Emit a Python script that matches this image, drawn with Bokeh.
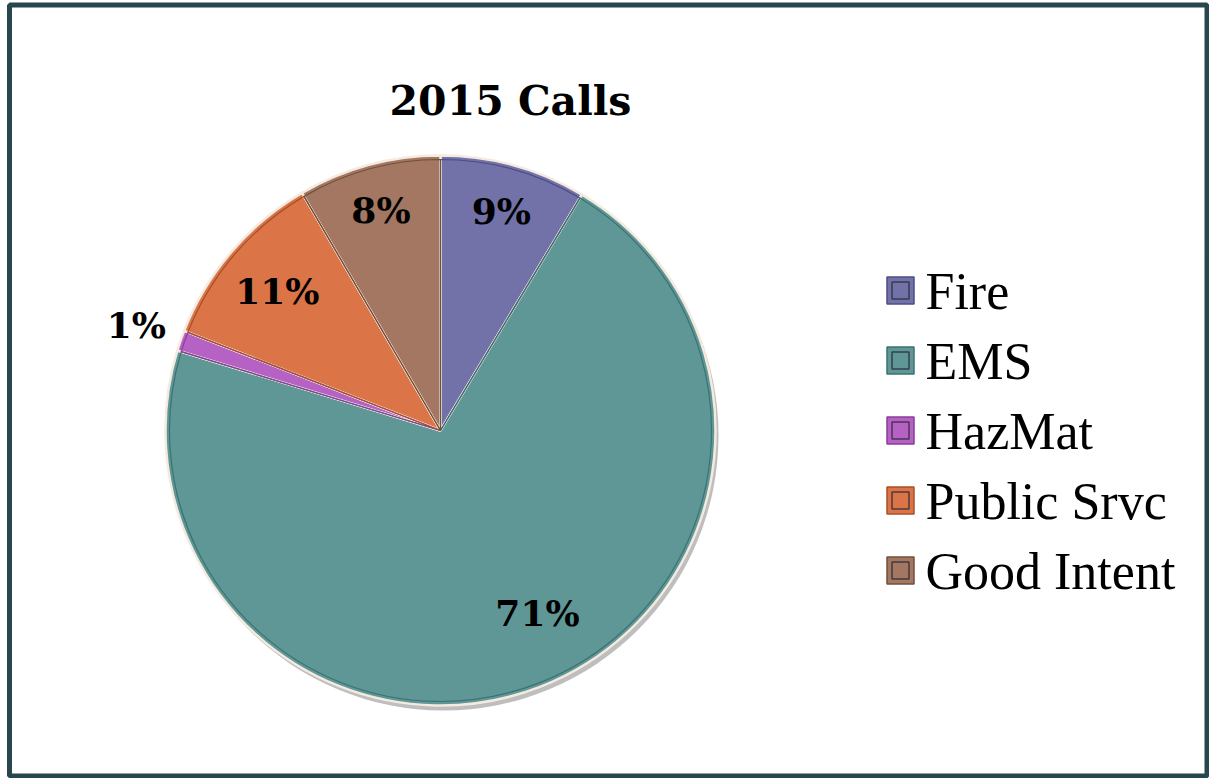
import math
from bokeh.plotting import figure
from bokeh.models import Range1d, ColumnDataSource
from bokeh.core.properties import value
from bokeh.embed import file_html
from bokeh.resources import INLINE

# ---- data ----
categories = ["Fire", "EMS", "HazMat", "Public Srvc", "Good Intent"]
shares = [8.6, 71.1, 1.2, 10.7, 8.4]          # percent of 2015 calls
pct_labels = ["9%", "71%", "1%", "11%", "8%"]
title_text = "2015 Calls"

# ---- style ----
fill_colors = ["#7272a8", "#5f9797", "#b662c4", "#db7447", "#a37761"]
edge_colors = ["#4c4c86", "#3b7272", "#8c3d9c", "#a9512a", "#70503f"]
label_r = [0.83, 0.75, 1.17, 0.78, 0.83]
label_shift_deg = [0, -7, 0, 0, 0]

W, H = 1209, 778
p = figure(width=W, height=H, x_range=Range1d(0, W), y_range=Range1d(0, H),
           output_backend="svg", toolbar_location=None, min_border=0)
p.axis.visible = False
p.grid.visible = False
p.outline_line_color = None
p.background_fill_color = "white"
p.border_fill_color = "white"

# frame
p.quad(left=[9], right=[1206.5], bottom=[2.5], top=[773.5], fill_color=None,
       line_color="#26474b", line_width=5)

cx, cy, r = 440, 348, 275
total = sum(shares)
starts, ends, mids = [], [], []
acc = 0.0
for v in shares:
    a0 = math.pi / 2 - acc / total * 2 * math.pi
    acc += v
    a1 = math.pi / 2 - acc / total * 2 * math.pi
    starts.append(a0); ends.append(a1); mids.append((a0 + a1) / 2)

# shadow (bottom-right)
p.circle(x=[cx + 3], y=[cy - 5], radius=r, fill_color="#444444", fill_alpha=0.35,
         line_color=None)

src = ColumnDataSource(dict(start=starts, end=ends, fill=fill_colors, edge=edge_colors))
p.wedge(x=cx, y=cy, radius=r, start_angle="start", end_angle="end", direction="clock",
        fill_color="fill", line_color="#f4eadf", line_width=2.5, source=src)
p.wedge(x=cx, y=cy, radius=r - 4, start_angle="start", end_angle="end", direction="clock",
        fill_color=None, line_color="edge", line_width=1.2, source=src)

lx, ly = [], []
for m, f, s in zip(mids, label_r, label_shift_deg):
    a = m - math.radians(s)
    lx.append(cx + f * r * math.cos(a))
    ly.append(cy + f * r * math.sin(a))
p.text(x=lx, y=ly, text=pct_labels, text_font=value("DejaVu Serif"), text_font_style="bold",
       text_font_size="36px", text_align="center", text_baseline="middle", text_color="black")

# title
p.text(x=[510], y=[H - 100], text=[title_text], text_font=value("DejaVu Serif"),
       text_font_style="bold", text_font_size="41px", text_align="center",
       text_baseline="middle", text_color="black")

# legend
ly0 = H - 290
step = 70
leg_y = [ly0 - i * step for i in range(len(categories))]
p.rect(x=[900] * len(categories), y=leg_y, width=27, height=27, fill_color=fill_colors,
       line_color=edge_colors, line_width=1.5)
p.rect(x=[900] * len(categories), y=leg_y, width=17, height=17, fill_color=None,
       line_color="#2b2b3a", line_width=1.5, line_alpha=0.8)
p.text(x=[925] * len(categories), y=[y - 1 for y in leg_y], text=categories,
       text_font=value("Liberation Serif"), text_font_size="52px", text_align="left",
       text_baseline="middle", text_color="black")

open("out.html", "w").write(file_html(p, INLINE))
